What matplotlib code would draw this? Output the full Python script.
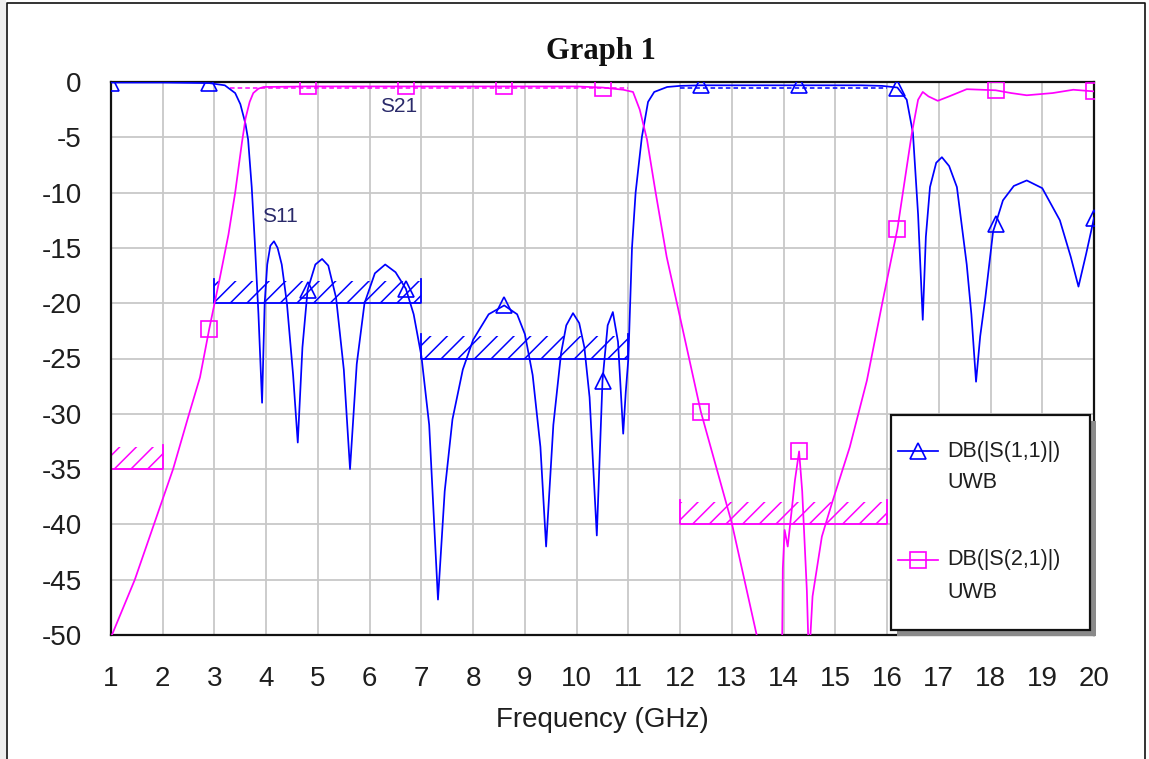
import matplotlib
matplotlib.use('Agg')
import matplotlib.pyplot as plt
import numpy as np
from matplotlib.patches import Rectangle
from matplotlib.lines import Line2D

plt.rcParams['font.family'] = ['Liberation Sans', 'DejaVu Sans']
plt.rcParams['axes.unicode_minus'] = False
plt.rcParams['hatch.linewidth'] = 1.1

# Data
s11_f = [1.0, 2.0, 2.9, 3.2, 3.4, 3.5, 3.6, 3.65, 3.72, 3.78, 3.85, 3.92, 3.97, 4.02, 4.08,
         4.15, 4.22, 4.3, 4.4, 4.52, 4.61, 4.7, 4.8, 4.95, 5.08, 5.2, 5.35, 5.5, 5.62, 5.75,
         5.9, 6.1, 6.3, 6.5, 6.7, 6.85, 7.0, 7.15, 7.32, 7.45, 7.6, 7.8, 8.0, 8.3, 8.6, 8.85,
         9.0, 9.15, 9.3, 9.41, 9.55, 9.7, 9.8, 9.93, 10.05, 10.15, 10.25, 10.39, 10.5, 10.6,
         10.7, 10.8, 10.9, 10.95, 11.0, 11.07, 11.14, 11.26, 11.38, 11.5, 11.75, 12.0, 12.4,
         13.0, 14.3, 15.5, 15.9, 16.2, 16.38, 16.5, 16.6, 16.69, 16.75, 16.83, 16.95, 17.06,
         17.2, 17.35, 17.54, 17.63, 17.72, 17.8, 17.9, 18.05, 18.1, 18.24, 18.45, 18.7, 19.0,
         19.34, 19.55, 19.7, 19.85, 20.0]
s11_db = [-0.05, -0.05, -0.1, -0.3, -1.0, -2.0, -3.8, -5.2, -9.5, -14.5, -21, -29, -20, -16.5, -14.8,
          -14.4, -15, -16.5, -20, -26.5, -32.6, -24, -18.8, -16.5, -16.0, -16.6, -19.5, -26, -35, -25.5,
          -20, -17.3, -16.5, -17.2, -18.7, -21, -24.8, -31, -46.8, -37, -30.5, -26, -23.3, -21, -20.2, -21,
          -22.8, -26.5, -33, -42, -31, -24.5, -22, -20.9, -21.8, -24, -28.5, -41, -27, -22,
          -20.8, -23.5, -31.8, -28, -25, -15, -10, -5, -1.8, -0.9, -0.45, -0.35, -0.3,
          -0.3, -0.3, -0.3, -0.35, -0.5, -1.6, -4.6, -12, -21.5, -14, -9.5, -7.3, -6.8,
          -7.6, -9.5, -16.5, -21, -27.1, -23, -19.5, -13.5, -12.8, -10.7, -9.4, -8.9, -9.6,
          -12.5, -15.8, -18.5, -15.5, -12.3]

s21_f = [1.0, 1.46, 1.83, 2.2, 2.51, 2.72, 2.9, 3.1, 3.27, 3.4, 3.53, 3.6, 3.68, 3.75, 3.85,
         3.95, 4.8, 5.5, 6.7, 8.6, 10.0, 10.5, 10.9, 11.09, 11.22, 11.36, 11.52, 11.74, 12.0,
         12.4, 13.0, 13.48, 13.7, 13.93, 13.97, 13.985, 14.02, 14.08, 14.15, 14.22, 14.3,
         14.36, 14.4, 14.45, 14.49, 14.56, 14.74, 14.94, 15.28, 15.61, 15.92, 16.2, 16.48,
         16.6, 16.69, 16.8, 16.98, 17.2, 17.54, 18.1, 18.4, 18.7, 19.2, 19.6, 20.0]
s21_db = [-50.2, -45, -40, -35, -30, -26.7, -22.3, -17.8, -13.8, -10, -5.5, -3.3, -1.8, -1.0, -0.6,
          -0.45, -0.4, -0.4, -0.4, -0.4, -0.4, -0.5, -0.7, -0.9, -2.5, -5.2, -9.8, -15.8, -21.3,
          -29.8, -39.9, -50, -55, -60, -52, -44, -40.5, -42, -39, -36, -33.4,
          -37, -41, -46, -52.5, -46.5, -41.1, -38, -33, -27, -19.7, -13.3, -4.6,
          -1.6, -0.9, -1.3, -1.7, -1.3, -0.65, -0.75, -1.0, -1.2, -1.0, -0.7, -0.85]

s11_mark_f = [1.0, 2.9, 4.8, 6.7, 8.6, 10.5, 12.4, 14.3, 16.2, 18.1, 20.0]
s21_mark_f = [2.9, 4.8, 6.7, 8.6, 10.5, 12.4, 14.3, 16.2, 18.1, 20.0]

# optimisation goals: (start GHz, stop GHz, level dB)
s11_goals = [(3, 7, -20), (7, 11, -25)]
s21_goals = [(1, 2, -35), (12, 16, -40)]

x_ticks = list(range(1, 21))
y_ticks = list(range(-50, 1, 5))

BLUE = '#0000ff'
MAG = '#ff00ff'
TXT = '#1e1e1e'

W, H = 1149, 759
fig = plt.figure(figsize=(W / 100, H / 100), dpi=100)
ax = fig.add_axes([111 / W, 1 - 635 / H, 983 / W, 553 / H])


def fx(px):
    return px / W


def fy(py):
    return 1 - py / H


def mark_idx(freqs, marks):
    return [i for i, f in enumerate(freqs) if any(abs(f - m) < 1e-6 for m in marks)]


# goal lines with hatching
for goals, col in [(s11_goals, BLUE), (s21_goals, MAG)]:
    for fs, fe, lvl in goals:
        ax.fill_between([fs, fe], lvl, lvl + 2.0, facecolor='none', edgecolor=col,
                        hatch='//', linewidth=0, zorder=2)
        ax.plot([fs, fs, fe, fe], [lvl + 2.2, lvl, lvl, lvl + 2.2], color=col, lw=1.3, zorder=2)

# pass-band goal lines near 0 dB
ax.plot([1, 3], [0, 0], color=BLUE, lw=1.3, zorder=2, clip_on=False)
ax.plot([12, 16], [0, 0], color=BLUE, lw=1.3, zorder=2, clip_on=False)
ax.plot([3, 11], [0, 0], color=MAG, lw=1.3, zorder=2, clip_on=False)
ax.plot([3.3, 11], [-0.55, -0.55], color=MAG, lw=1.1, ls=(0, (3, 2)), zorder=2)
ax.plot([12, 16], [-0.55, -0.55], color=BLUE, lw=1.1, ls=(0, (3, 2)), zorder=2)

# traces
ax.plot(s11_f, s11_db, color=BLUE, lw=1.25, marker='^', ms=11.5, mfc='none', mew=1.2,
        markevery=mark_idx(s11_f, s11_mark_f), zorder=3)
ax.plot(s21_f, s21_db, color=MAG, lw=1.25, marker='s', ms=12, mfc='none', mew=1.2,
        markevery=mark_idx(s21_f, s21_mark_f), zorder=3)

ax.text(3.92, -12.2, 'S11', color='#2a2a6a', fontsize=15, va='center', ha='left', zorder=4)
ax.text(6.2, -2.2, 'S21', color='#2a2a6a', fontsize=15, va='center', ha='left', zorder=4)

ax.set_xlim(1, 20)
ax.set_ylim(-50, 0)
ax.set_xticks(x_ticks)
ax.set_yticks(y_ticks)
ax.tick_params(length=0, labelsize=20, labelcolor=TXT)
ax.tick_params(axis='y', pad=21)
ax.tick_params(axis='x', pad=22)
ax.grid(True, color='#c8c8c8', lw=1.3, zorder=0)
ax.set_axisbelow(True)
for sp in ax.spines.values():
    sp.set_linewidth(1.6)
    sp.set_color('#111111')
ax.set_xlabel('Frequency (GHz)', fontsize=20, color=TXT, labelpad=11)

fig.text(fx(601), fy(52), 'Graph 1', family=['Liberation Serif', 'DejaVu Serif'],
         weight='bold', fontsize=22, ha='center', va='center', color='#111111')

# legend drawn by hand
fig.add_artist(Rectangle((fx(897), fy(636)), 199 / W, 215 / H, transform=fig.transFigure,
                         facecolor='#8a8a8a', edgecolor='none', zorder=5))
fig.add_artist(Rectangle((fx(891), fy(630)), 199 / W, 215 / H, transform=fig.transFigure,
                         facecolor='white', edgecolor='#111111', lw=1.6, zorder=6))
for y0, col, mk, ms, name in [(451, BLUE, '^', 11.5, 'DB(|S(1,1)|)'), (560, MAG, 's', 12, 'DB(|S(2,1)|)')]:
    fig.add_artist(Line2D([fx(898), fx(938)], [fy(y0), fy(y0)], transform=fig.transFigure,
                          color=col, lw=1.25, zorder=7))
    fig.add_artist(Line2D([fx(918)], [fy(y0)], transform=fig.transFigure, color=col,
                          marker=mk, ms=ms, mfc='none', mew=1.2, lw=0, zorder=7))
    fig.text(fx(947), fy(y0), name, fontsize=15.5, color=TXT, va='center', ha='left', zorder=7)
    fig.text(fx(947), fy(y0 + 32), 'UWB', fontsize=15.5, color=TXT, va='center', ha='left', zorder=7)

# outer frame
fig.add_artist(Rectangle((0, 0), 6 / W, 1, transform=fig.transFigure, facecolor='#eeeeee',
                         edgecolor='none', zorder=1))
fig.add_artist(Line2D([fx(7), fx(7), fx(1145), fx(1145)], [0, fy(3), fy(3), 0],
                      transform=fig.transFigure, color='#111111', lw=1.2, zorder=1))

fig.savefig('out.png', dpi=100)
